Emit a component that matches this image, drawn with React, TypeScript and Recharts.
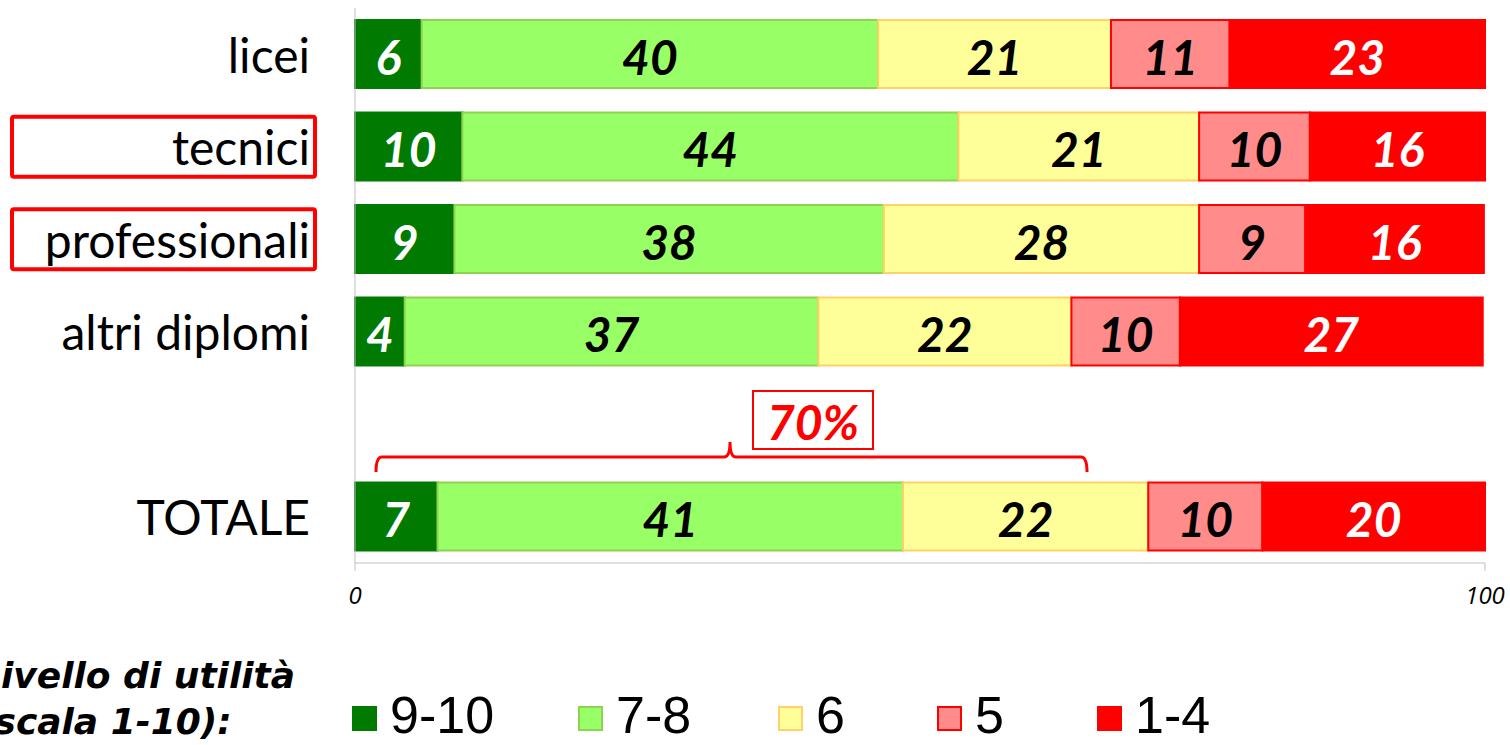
import { Bar, BarChart, Customized, LabelList, XAxis, YAxis } from 'recharts'

const categorie = ['licei', 'tecnici', 'professionali', 'altri diplomi', '', 'TOTALE']
const evidenziate = ['tecnici', 'professionali']

const voto910 = [5.9, 9.5, 8.8, 4.4, null, 7.3]
const voto78 = [40.4, 43.9, 38.0, 36.6, null, 41.2]
const voto6 = [20.6, 21.3, 27.9, 22.4, null, 21.7]
const voto5 = [10.5, 9.8, 9.4, 9.6, null, 10.1]
const voto14 = [22.6, 15.5, 15.8, 26.8, null, 19.7]

const assiTicks = [0, 100]

const serie = [
  { key: 'v910', nome: '9-10', valori: voto910, fill: '#007A00', stroke: '#007A00', testo: '#ffffff' },
  { key: 'v78', nome: '7-8', valori: voto78, fill: '#99FF66', stroke: '#8FD150', testo: '#000000' },
  { key: 'v6', nome: '6', valori: voto6, fill: '#FFFF99', stroke: '#FFD166', testo: '#000000' },
  { key: 'v5', nome: '5', valori: voto5, fill: '#FF8B8B', stroke: '#FF0000', testo: '#000000' },
  { key: 'v14', nome: '1-4', valori: voto14, fill: '#FF0000', stroke: '#FF0000', testo: '#ffffff' },
]

const chartData = categorie.map((c, i) => {
  const riga: Record<string, string | number | null> = { nome: c }
  serie.forEach((s) => {
    riga[s.key] = s.valori[i]
  })
  return riga
})

const fontTesto = 'Lato, "DejaVu Sans", sans-serif'
const fontTitolo = '"DejaVu Sans", sans-serif'
const fontLegenda = '"Liberation Sans", Arial, sans-serif'

function etichetta(colore: string) {
  return (props: any) => {
    const { x, y, width, height, value } = props
    if (value == null) return null
    return (
      <text
        x={Number(x) + Number(width) / 2}
        y={Number(y) + Number(height) / 2 + 2}
        textAnchor="middle"
        dominantBaseline="central"
        fill={colore}
        fontFamily={fontTesto}
        fontWeight="bold"
        fontStyle="italic"
        fontSize={48}
      >
        {Math.round(Number(value))}
      </text>
    )
  }
}

function TickCategoria({ y, payload }: any) {
  const boxed = evidenziate.includes(payload.value)
  return (
    <g>
      {boxed && (
        <rect x={12} y={y - 30} width={303} height={60} rx={2} fill="none" stroke="#FF0000" strokeWidth={4} />
      )}
      <text x={310} y={y} textAnchor="end" dominantBaseline="central" fill="#000" fontFamily={fontTesto} fontSize={48}>
        {payload.value}
      </text>
    </g>
  )
}

function TickValore({ x, y, payload }: any) {
  return (
    <text x={x} y={y + 31} textAnchor="middle" fill="#000" fontFamily='"Open Sans", sans-serif' fontStyle="italic" fontSize={24}>
      {payload.value}
    </text>
  )
}

function Parentesi() {
  return (
    <g>
      <path
        d="M376,472 Q376,457 382,457 L724,457 Q730,457 730,442 Q730,457 736,457 L1081,457 Q1087,457 1087,472"
        fill="none"
        stroke="#FF0000"
        strokeWidth={3}
      />
      <rect x={753} y={391} width={120} height={58} fill="#fff" stroke="#FF0000" strokeWidth={2} />
      <text
        x={813}
        y={421}
        textAnchor="middle"
        dominantBaseline="central"
        fill="#FF0000"
        fontFamily={fontTesto}
        fontWeight="bold"
        fontStyle="italic"
        fontSize={48}
      >
        70%
      </text>
    </g>
  )
}

function Legenda() {
  const posizioni = [352, 578, 778, 937, 1097]
  const stileTitolo = {
    position: 'absolute' as const,
    left: -22,
    fontFamily: fontTitolo,
    fontWeight: 'bold' as const,
    fontStyle: 'italic' as const,
    fontSize: 36,
    lineHeight: '36px',
    whiteSpace: 'nowrap' as const,
  }
  return (
    <div style={{ position: 'absolute', left: 0, top: 640, width: 1510, height: 105, overflow: 'hidden' }}>
      <div style={{ ...stileTitolo, top: 18 }}>Livello di utilità</div>
      <div style={{ ...stileTitolo, top: 64 }}>(scala 1-10):</div>
      {serie.map((s, i) => (
        <div key={s.key} style={{ position: 'absolute', left: posizioni[i], top: 66 }}>
          <span
            style={{
              position: 'absolute',
              left: 0,
              top: 0,
              width: 21,
              height: 21,
              background: s.fill,
              border: `2px solid ${s.stroke}`,
            }}
          />
          <span
            style={{
              position: 'absolute',
              left: 38,
              top: -23,
              fontFamily: fontLegenda,
              fontSize: 52,
              whiteSpace: 'nowrap',
              lineHeight: '64px',
            }}
          >
            {s.nome}
          </span>
        </div>
      ))}
    </div>
  )
}

export default function App() {
  return (
    <div style={{ position: 'relative', width: 1510, height: 745, background: '#fff' }}>
      <style>{`body{margin:0}`}</style>
      <BarChart
        width={1510}
        height={745}
        data={chartData}
        layout="vertical"
        margin={{ top: 8, right: 25, bottom: 132, left: 0 }}
      >
        <XAxis
          type="number"
          domain={[0, 100]}
          ticks={assiTicks}
          stroke="#BFBFBF"
          tickSize={8}
          height={50}
          tick={<TickValore />}
        />
        <YAxis
          type="category"
          dataKey="nome"
          width={355}
          stroke="#BFBFBF"
          tickLine={false}
          interval={0}
          tick={<TickCategoria />}
        />
        {serie.map((s) => (
          <Bar
            key={s.key}
            dataKey={s.key}
            stackId="utilita"
            fill={s.fill}
            stroke={s.stroke}
            strokeWidth={2}
            barSize={68}
            isAnimationActive={false}
          >
            <LabelList dataKey={s.key} content={etichetta(s.testo)} />
          </Bar>
        ))}
        <Customized component={<Parentesi />} />
      </BarChart>
      <Legenda />
    </div>
  )
}
